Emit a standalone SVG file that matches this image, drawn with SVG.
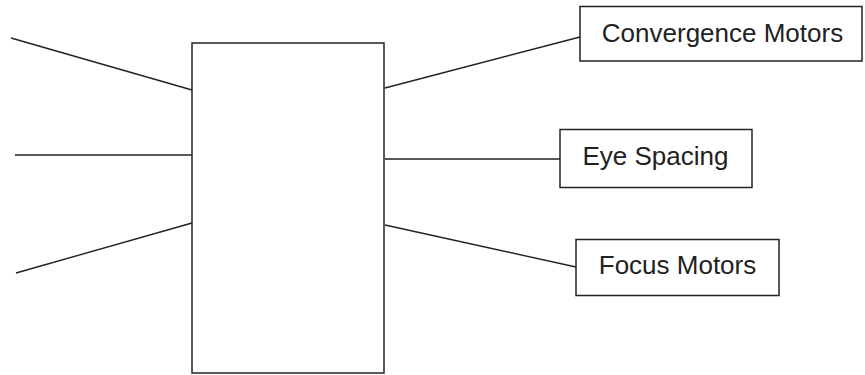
<svg xmlns="http://www.w3.org/2000/svg" width="865" height="375" viewBox="0 0 865 375">
<style>
.box{fill:#fff;stroke:#222;stroke-width:1.5}
.ln{stroke:#222;stroke-width:1.4;fill:none}
.t{font-family:"Liberation Sans",Arial,sans-serif;font-size:26px;fill:#222;text-anchor:middle}
</style>
<rect width="865" height="375" fill="#fff"/>
<g id="connectors">
<line class="ln" x1="11" y1="38" x2="192" y2="90"/>
<line class="ln" x1="15" y1="155" x2="192" y2="155"/>
<line class="ln" x1="16" y1="273" x2="192" y2="223"/>
<line class="ln" x1="385" y1="88" x2="580" y2="37"/>
<line class="ln" x1="385" y1="159" x2="560" y2="159"/>
<line class="ln" x1="385" y1="225" x2="576" y2="267"/>
</g>
<g id="main"><rect class="box" x="192" y="43" width="192" height="330"/></g>
<g id="convergence"><rect class="box" x="580" y="6.5" width="282" height="54.5"/><text class="t" x="722.5" y="42">Convergence Motors</text></g>
<g id="eye"><rect class="box" x="560" y="129.5" width="192" height="58"/><text class="t" x="655.5" y="165">Eye Spacing</text></g>
<g id="focus"><rect class="box" x="576" y="239.5" width="203" height="56"/><text class="t" x="677.5" y="274">Focus Motors</text></g>
</svg>
